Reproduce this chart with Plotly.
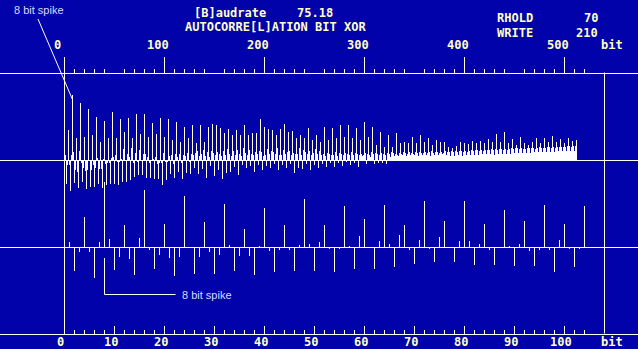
import plotly.graph_objects as go

# ---------------- data ----------------
# autocorrelation (bit XOR) per lag in bits, lags 0..512 (screen-height units)
acf = [
    0, 5, -24, -5, 30, -5, -31, 5,
    65, 8, -23, -10, 22, -12, -28, 9,
    57, -3, -22, -8, 23, -11, -29, -10,
    51, 0, -27, -10, 25, -5, -27, -8,
    43, 2, -24, -9, 18, -9, -28, 1,
    39, -4, -25, -3, 22, -3, -24, 2,
    48, 3, -24, 5, 22, -2, -25, -2,
    41, 1, -22, 11, 28, 0, -22, 6,
    42, 3, -20, 12, 22, -3, -17, 7,
    46, -2, -15, 10, 26, 0, -15, 6,
    46, 6, -18, 3, 23, -3, -18, 0,
    37, 1, -19, 3, 26, -4, -19, -3,
    42, -3, -25, 7, 23, -2, -20, -2,
    41, 4, -14, 5, 20, -4, -18, 6,
    38, 3, -12, 6, 18, -3, -19, 5,
    33, 4, -13, 7, 22, -2, -14, 6,
    35, 5, -8, 7, 17, 9, -14, 4,
    35, 6, -9, 10, 18, 4, -18, 8,
    33, 3, -6, 9, 36, 7, -16, 5,
    35, 8, -10, 6, 32, 4, -19, 9,
    27, 5, -13, 11, 31, 6, -12, 4,
    25, 9, -7, 5, 30, 10, -15, 6,
    25, 4, -5, 12, 35, 7, -8, 5,
    25, 10, -6, 6, 27, 5, -12, 8,
    27, 6, -5, 9, 41, 8, -10, 4,
    33, 5, -6, 11, 31, 6, -8, 9,
    30, 8, -4, 6, 25, 12, -10, 5,
    31, 5, -5, 10, 36, 6, -8, 8,
    28, 9, -4, 5, 29, 7, -13, 6,
    22, 6, -8, 12, 25, 5, -9, 10,
    22, 8, -4, 6, 32, 9, -10, 5,
    20, 7, -5, 11, 25, 6, -8, 9,
    18, 5, -4, 6, 33, 4, -7, 7,
    20, 6, -3, 5, 32, 5, -7, 8,
    22, 4, -3, 7, 35, 6, -6, 5,
    23, 7, -2, 6, 35, 5, -5, 8,
    22, 5, -3, 7, 32, 6, -7, 5,
    20, 6, 4, 5, 38, 7, -4, 6,
    23, 5, 3, 8, 33, 6, -4, 7,
    15, 6, -3, 5, 28, 7, -3, 6,
    13, 5, -4, 7, 25, 6, 3, 8,
    13, 7, 4, 6, 27, 5, 4, 7,
    17, 6, 5, 8, 18, 7, 4, 6,
    17, 8, 5, 7, 23, 6, 5, 8,
    17, 7, 4, 8, 25, 7, 5, 7,
    18, 8, 5, 7, 22, 8, 4, 9,
    15, 7, 5, 8, 20, 8, 5, 7,
    18, 8, 6, 7, 18, 9, 5, 8,
    13, 8, 4, 9, 12, 8, 4, 9,
    14, 8, 5, 9, 18, 9, 4, 8,
    17, 9, 5, 8, 16, 9, 5, 10,
    19, 9, 5, 10, 17, 10, 5, 9,
    19, 10, 6, 9, 17, 10, 6, 10,
    21, 10, 6, 11, 18, 10, 5, 11,
    26, 10, 6, 11, 18, 11, 6, 10,
    28, 11, 6, 10, 17, 11, 6, 12,
    21, 11, 7, 12, 15, 12, 7, 11,
    23, 12, 7, 11, 17, 11, 7, 12,
    15, 12, 7, 12, 18, 12, 8, 11,
    22, 12, 8, 13, 17, 12, 8, 12,
    22, 12, 8, 13, 18, 13, 8, 12,
    24, 13, 8, 12, 18, 13, 9, 13,
    21, 13, 9, 13, 17, 13, 9, 14,
    22, 14, 9, 13, 19, 14, 9, 14,
    20,
]
lags = list(range(len(acf)))
zoom_last_lag = 104  # lower panel shows lags 0..104

top_tick_major = [0, 100, 200, 300, 400, 500]
top_tick_medium = [50, 150, 250, 350, 450]
top_tick_minor = [v for v in range(10, 530, 10) if v % 50 != 0]
bot_tick_labels = [0, 10, 20, 30, 40, 50, 60, 70, 80, 90, 100]
bot_tick_major = [0, 20, 40, 60, 80, 100]
bot_tick_minor = [v for v in range(2, 106, 2) if v % 10 != 0]

baud_label, baud_value = "[B]audrate", "75.18"
title_text = "AUTOCORRE[L]ATION BIT XOR"
rhold_label, rhold_value = "RHOLD", "70"
write_label, write_value = "WRITE", "210"
unit_text = "bit"
note_text = "8 bit spike"

# ---------------- style ----------------
W, H = 638, 349
BG = "#0202AA"
FG = "#FFFFFF"
TXT = "#FFFFC8"
NOTE = "#D8DCFF"
MONO = dict(family="DejaVu Sans Mono", size=12, color=TXT, weight="bold")
SANS = dict(family="Liberation Sans, Arial", size=11, color=NOTE)


def py(p):
    return 1 - p / H


def px(p):
    return p / W


fig = go.Figure()
fig.add_trace(go.Bar(x=lags, y=acf, width=1, xaxis="x", yaxis="y",
                     marker=dict(color=FG, line=dict(width=0))))
fig.add_trace(go.Bar(x=lags[:zoom_last_lag + 1], y=acf[:zoom_last_lag + 1], width=0.2,
                     xaxis="x2", yaxis="y2",
                     marker=dict(color=FG, line=dict(width=0))))

TOP_POS = py(72.5)
BOT_POS = py(333.5)
common = dict(showgrid=False, zeroline=False, automargin=False, fixedrange=True)
TOP_RANGE = [-64.5, 573.5]
BOT_RANGE = [-12.9, 114.7]

fig.update_layout(
    width=W, height=H, margin=dict(l=0, r=0, t=0, b=0),
    paper_bgcolor=BG, plot_bgcolor=BG, showlegend=False, barmode="overlay",
    xaxis=dict(range=TOP_RANGE, side="top", anchor="free", position=TOP_POS,
               showline=True, linecolor=FG, linewidth=1,
               ticks="outside", tickvals=top_tick_major, showticklabels=False,
               ticklen=16, tickwidth=1, tickcolor=FG,
               minor=dict(tickvals=top_tick_minor, ticklen=4, tickwidth=1,
                          tickcolor=FG, ticks="outside", showgrid=False),
               **common),
    xaxis3=dict(range=TOP_RANGE, side="top", anchor="free", position=TOP_POS,
                overlaying="x", showline=False, ticks="outside",
                tickvals=top_tick_medium, ticklen=8, tickwidth=1, tickcolor=FG,
                showticklabels=False, **common),
    xaxis2=dict(range=BOT_RANGE, side="bottom", anchor="free", position=BOT_POS,
                overlaying="x", showline=True, linecolor=FG, linewidth=1,
                ticks="inside", tickvals=bot_tick_labels, showticklabels=False,
                ticklen=8, tickwidth=1, tickcolor=FG,
                minor=dict(tickvals=bot_tick_minor, ticklen=4, tickwidth=1,
                           tickcolor=FG, ticks="inside", showgrid=False),
                **common),
    xaxis4=dict(range=BOT_RANGE, side="bottom", anchor="free", position=BOT_POS,
                overlaying="x", showline=False, ticks="inside",
                tickvals=bot_tick_major, ticklen=16, tickwidth=1, tickcolor=FG,
                showticklabels=False, **common),
    yaxis=dict(range=[-189, 160], visible=False, **common),
    yaxis2=dict(range=[-102, 247], overlaying="y", visible=False, **common),
)

shapes = [
    dict(type="line", xref="paper", yref="y", x0=0, x1=1, y0=-0.5, y1=-0.5,
         line=dict(color=FG, width=1)),
    dict(type="line", xref="paper", yref="y2", x0=0, x1=1, y0=-0.5, y1=-0.5,
         line=dict(color=FG, width=1)),
    dict(type="line", xref="x", yref="paper", x0=0, x1=0, y0=py(72.5), y1=py(333.5),
         line=dict(color=FG, width=1)),
    dict(type="line", xref="x", yref="paper", x0=540, x1=540, y0=py(72.5), y1=py(333.5),
         line=dict(color=FG, width=1)),
    # callout lines
    dict(type="line", xref="x", yref="y", x0=-26.5, y0=141, x1=8.2, y1=60,
         line=dict(color=FG, width=1)),
    dict(type="path", xref="x2", yref="y2", path="M 8 -11 L 8 -47.5 L 22.2 -47.5",
         line=dict(color=FG, width=1)),
]
fig.update_layout(shapes=shapes)


def txt(s, x, y, font, anchor="left"):
    fig.add_annotation(text=s, x=px(x), y=py(y), xref="paper", yref="paper",
                       xanchor=anchor, yanchor="middle", showarrow=False,
                       font=font, borderpad=0)


# header texts
txt(baud_label, 193, 13, MONO)
txt(baud_value, 296, 13, MONO)
txt(title_text, 275.5, 27, MONO, anchor="center")
txt(rhold_label, 496, 18, MONO)
txt(rhold_value, 599, 18, MONO, anchor="right")
txt(write_label, 496, 33, MONO)
txt(write_value, 599, 33, MONO, anchor="right")
txt(unit_text, 600, 45.5, MONO)
txt(unit_text, 600, 342, MONO)
txt(note_text, 13, 10, SANS)
txt(note_text, 181, 294.5, SANS)

# axis tick labels (placed at their tick values)
for v in top_tick_major:
    fig.add_annotation(text=str(v), x=v, xref="x", y=py(45.5), yref="paper",
                       xanchor="center", yanchor="middle", xshift=-7,
                       showarrow=False, font=MONO, borderpad=0)
for v in bot_tick_labels:
    fig.add_annotation(text=str(v), x=v, xref="x2", y=py(342), yref="paper",
                       xanchor="center", yanchor="middle", xshift=-4,
                       showarrow=False, font=MONO, borderpad=0)

fig.write_html("out.html", config=dict(displayModeBar=False))
